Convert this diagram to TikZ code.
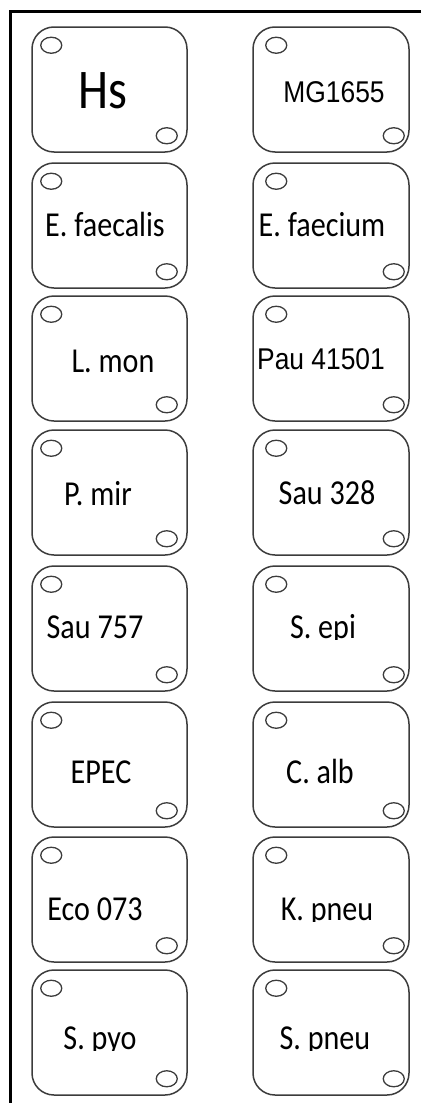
\documentclass[tikz,border=0pt]{standalone}
\usepackage{fontspec}
\setmainfont{Carlito}
\newfontfamily\lblfont[FakeStretch=0.86]{Carlito}
\newfontfamily\arialfont[FakeStretch=0.88]{Liberation Sans}
\definecolor{boxgray}{HTML}{3C3C3C}
\begin{document}
\begin{tikzpicture}[x=1pt,y=-1pt,
  boxst/.style={draw=boxgray, line width=1.5pt, rounded corners=22pt,
    minimum width=155pt, minimum height=125pt, inner sep=0pt},
  holest/.style={draw=boxgray, line width=1.3pt},
  lbl/.style={inner sep=0pt, anchor=base, text=black,
    font=\lblfont\fontsize{35}{35}\selectfont},
  albl/.style={inner sep=0pt, anchor=base, text=black,
    font=\arialfont\fontsize{30}{30}\selectfont},
  biglbl/.style={inner sep=0pt, anchor=base, text=black,
    font=\lblfont\fontsize{56}{56}\selectfont}]
\useasboundingbox (0,0) rectangle (421,1103);
% frame
\coordinate (fr1) at (421,11.8);
\coordinate (fr2) at (10.8,11.8);
\coordinate (fr3) at (10.8,1103);
\draw[line width=3pt, black] (fr1) -- (fr2) -- (fr3);
% boxes and holes
\foreach \r/\t in {1/27,2/163,3/296,4/430,5/566,6/702,7/837,8/970} {
  \node[boxst] (bL\r) at (109.5,\t+62.5) {};
  \node[boxst, minimum width=156pt] (bR\r) at (331,\t+62.5) {};
  \draw[holest] (bL\r.north west) ++(20,19) ellipse [x radius=10.5pt, y radius=8pt];
  \draw[holest] (bL\r.south east) ++(-21,-17) ellipse [x radius=10.5pt, y radius=8pt];
  \draw[holest] (bR\r.north west) ++(24,19) ellipse [x radius=10.5pt, y radius=8pt];
  \draw[holest] (bR\r.south east) ++(-16,-17) ellipse [x radius=10.5pt, y radius=8pt];
}
% labels
\node[biglbl] (t1L) at (103,108) {Hs};
\node[albl] (t1R) at (334,102) {MG1655};
\node[lbl] (t2L) at (105,236) {E. faecalis};
\node[lbl] (t2R) at (322,236) {E. faecium};
\node[lbl] (t3L) at (113,372) {L. mon};
\node[albl] (t3R) at (321,369) {Pau 41501};
\node[lbl] (t4L) at (98,505) {P. mir};
\node[lbl] (t4R) at (327,504) {Sau 328};
\node[lbl] (t5L) at (95,638) {Sau 757};
\begin{scope}
  \clip (240,580) rectangle (400,639.5);
  \node[lbl] (t5R) at (323,638) {S. epi};
\end{scope}
\node[lbl] (t6L) at (101,783) {EPEC};
\node[lbl] (t6R) at (320,783) {C. alb};
\node[lbl] (t7L) at (95,920) {Eco 073};
\begin{scope}
  \clip (240,860) rectangle (400,921.5);
  \node[lbl] (t7R) at (327,920) {K. pneu};
\end{scope}
\begin{scope}
  \clip (20,990) rectangle (190,1050.5);
  \node[lbl] (t8L) at (100,1049) {S. pyo};
\end{scope}
\begin{scope}
  \clip (240,990) rectangle (400,1050.5);
  \node[lbl] (t8R) at (325,1049) {S. pneu};
\end{scope}
\end{tikzpicture}
\end{document}
